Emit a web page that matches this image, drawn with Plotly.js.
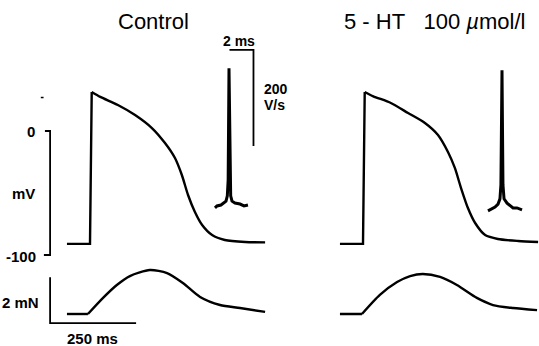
<!DOCTYPE html>
<html>
<head>
<meta charset="utf-8">
<script src="https://cdn.plot.ly/plotly-3.0.1.min.js"></script>
<style>html,body{margin:0;padding:0;background:#fff;}#chart{width:539px;height:346px;}</style>
</head>
<body>
<div id="chart"></div>
<script>
// ---- Data (time in ms, membrane potential in mV, force in mN, dV/dt in V/s) ----
// Action potential, Control
const apCtrlT = [-67, 0, 5, 30, 81, 131, 180, 218, 247, 267, 285, 305, 326, 355, 392, 451, 509];
const apCtrlV = [-91, -91, 31.5, 27.5, 21, 12.9, 2.4, -9.7, -21.8, -35.5, -51.6, -65.3, -75.8, -83.9, -87.9, -89.5, -89.8];
// Action potential, 5-HT 100 umol/l
const apHtT = [-67, 0, 5, 30, 81, 131, 180, 218, 247, 267, 285, 305, 326, 355, 392, 451, 509];
const apHtV = [-91, -91, 31.5, 28, 22.6, 14.5, 6.5, -3.2, -16.9, -29.8, -46, -62.1, -74.2, -83.9, -87.1, -88.7, -89.5];
// Force of contraction, Control
const fCtrlT = [-67, -6, 38, 78, 116, 174, 224, 270, 320, 378, 436, 509];
const fCtrlF = [0, 0, 0.70, 1.26, 1.65, 1.91, 1.78, 1.35, 0.74, 0.39, 0.26, 0.09];
// Force of contraction, 5-HT
const fHtT = [-67, -3, 49, 99, 137, 174, 224, 273, 331, 378, 436, 506];
const fHtF = [0, 0, 0.83, 1.39, 1.65, 1.74, 1.61, 1.26, 0.70, 0.39, 0.26, 0.17];
// Upstroke velocity (dV/dt), Control
const dvCtrlT = [-1.17, -1.0, -0.67, -0.42, -0.25, -0.14, -0.07, 0, 0.07, 0.14, 0.25, 0.5, 0.92, 1.25, 1.58];
const dvCtrlV = [-6, -2, 0, 4, 8, 19, 52, 285, 52, 19, 8, 4, 2, -2, 0];
// Upstroke velocity (dV/dt), 5-HT
const dvHtT = [-1.17, -0.92, -0.58, -0.33, -0.17, -0.09, 0, 0.08, 0.17, 0.42, 0.67, 0.92, 1.25, 1.67];
const dvHtV = [-8, -4, 0, 6, 17, 46, 285, 46, 17, 8, 2, -2, -2, -6];
// Calibration bars
const calMv = [0, -100];          // mV
const calForce = 2;               // mN
const calTime = 250;              // ms
const calDvdt = 200;              // V/s
const calInsetTime = 2;           // ms
const titles = ["Control", "5 - HT\u00a0\u00a0 100 <i>\u00b5</i>mol/l"];

// ---- Layout helpers (pixel -> paper) ----
const W = 539, H = 346;
const px = x => x / W, py = y => 1 - y / H;
const K = 'black';

const traces = [];
function line(x, y, xa, ya, w, shape) {
  traces.push({type: 'scatter', mode: 'lines', x: x, y: y, xaxis: xa, yaxis: ya,
    line: {color: K, width: w, shape: shape || 'linear', smoothing: 0.7}, hoverinfo: 'skip', showlegend: false});
}
// AP traces: baseline + upstroke linear, plateau/repolarisation smooth
line(apCtrlT.slice(0, 3), apCtrlV.slice(0, 3), 'x', 'y', 2.4);
line(apCtrlT.slice(2), apCtrlV.slice(2), 'x', 'y', 2.4, 'spline');
line(apHtT.slice(0, 3), apHtV.slice(0, 3), 'x2', 'y', 2.4);
line(apHtT.slice(2), apHtV.slice(2), 'x2', 'y', 2.4, 'spline');
// Force traces
line(fCtrlT.slice(0, 2), fCtrlF.slice(0, 2), 'x', 'y2', 2.4);
line(fCtrlT.slice(1), fCtrlF.slice(1), 'x', 'y2', 2.4, 'spline');
line(fHtT.slice(0, 2), fHtF.slice(0, 2), 'x2', 'y2', 2.4);
line(fHtT.slice(1), fHtF.slice(1), 'x2', 'y2', 2.4, 'spline');
// dV/dt insets
line(dvCtrlT, dvCtrlV, 'x3', 'y3', 3);
line(dvHtT, dvHtV, 'x4', 'y4', 3);

// Calibration bars
const barT = -116, tickT = -134;
line([tickT + 3, barT, barT, tickT], [calMv[0], calMv[0], calMv[1], calMv[1]], 'x', 'y', 1.8);
line([barT, barT, barT + calTime], [calForce - 0.4, -0.4, -0.4], 'x', 'y2', 1.8);
line([0.04, 0.04 + calInsetTime, 0.04 + calInsetTime], [323, 323, 323 - calDvdt], 'x3', 'y3', 1.8);
// stray dash near the mV scale
line([-143, -135], [27, 27], 'x', 'y', 1.5);

const ax = (extra) => Object.assign({visible: false, showgrid: false, zeroline: false, fixedrange: true}, extra);
const lab = (text, x, y, xanchor, size) => ({text: text, x: px(x), y: py(y), xref: 'paper', yref: 'paper',
  xanchor: xanchor || 'center', yanchor: 'middle', showarrow: false,
  font: {family: 'Liberation Sans, Arial, sans-serif', size: size || 15, color: K}});
const bold = s => '<b>' + s + '</b>';

const layout = {
  width: W, height: H, margin: {l: 0, r: 0, t: 0, b: 0},
  paper_bgcolor: 'white', plot_bgcolor: 'rgba(0,0,0,0)', showlegend: false,
  xaxis: ax({domain: [0, 0.5], range: [-90 / 0.344, (269.5 - 90) / 0.344], anchor: 'y'}),
  xaxis2: ax({domain: [0.5, 1], range: [(269.5 - 363) / 0.344, (539 - 363) / 0.344], anchor: 'y'}),
  yaxis: ax({domain: [0, 1], range: [-(346 - 131) / 1.24, 131 / 1.24], anchor: 'x'}),
  yaxis2: ax({domain: [0, 1], range: [-(346 - 314) / 23, 314 / 23], anchor: 'x', overlaying: 'y'}),
  xaxis3: ax({domain: [0, 1], range: [-229 / 12, 310 / 12], anchor: 'y3'}),
  yaxis3: ax({domain: [0, 1], range: [-141 / 0.48, 205 / 0.48], anchor: 'x3'}),
  xaxis4: ax({domain: [0, 1], range: [-502 / 12, 37 / 12], anchor: 'y4'}),
  yaxis4: ax({domain: [0, 1], range: [-139 / 0.48, 207 / 0.48], anchor: 'x4'}),
  annotations: [
    lab(titles[0], 153, 21, 'center', 22),
    lab(titles[1], 434, 21, 'center', 22),
    lab(bold('2 ms'), 239, 41, 'center', 14),
    lab(bold('200'), 262, 89, 'left', 14),
    lab(bold('V/s'), 262, 105, 'left', 14),
    lab(bold('0'), 31, 131),
    lab(bold('mV'), 23, 193),
    lab(bold('-100'), 38, 256, 'right'),
    lab(bold('2 mN'), 41, 302, 'right'),
    lab(bold('250 ms'), 92, 338)
  ]
};
Plotly.newPlot('chart', traces, layout, {staticPlot: true, displayModeBar: false});
</script>
</body>
</html>
